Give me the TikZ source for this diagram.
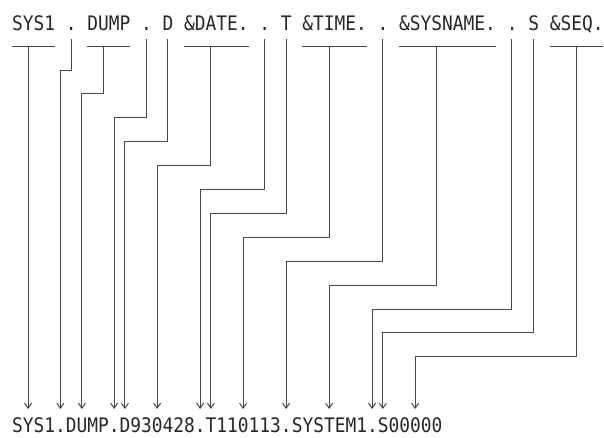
\documentclass[tikz,border=0pt]{standalone}
\usepackage{fontspec}
\newfontfamily\termfont[FakeStretch=0.893]{DejaVu Sans Mono}
\newcommand\termsize{\termfont\fontsize{20}{24}\selectfont
  \spaceskip=10.75pt\relax\xspaceskip=10.75pt\relax}
\usetikzlibrary{arrows.meta}
\begin{document}
\begin{tikzpicture}[x=1pt,y=-1pt,>={Straight Barb[length=5pt,width=7pt]},line join=round,
  font=\termsize,
  wire/.style={draw=black!72,line width=1pt},
  txt/.style={anchor=base west,inner sep=0pt,text depth=0pt,text=black!85}]
\useasboundingbox (0,0) rectangle (604,437);
\node[txt] (src) at (12,30) {SYS1 . DUMP . D \&DATE. . T \&TIME. . \&SYSNAME. . S \&SEQ.};
\node[txt] (dst) at (12,432) {SYS1.DUMP.D930428.T110113.SYSTEM1.S00000};
% bars under the symbols
\foreach \a/\e in {0/3,7/10,16/21,27/32,36/44,50/54}
  {\draw[wire] ({12+\a*10.75},46) -- ({12+(\e+1)*10.75},46);}
% one wire per piece: top column / bottom column / start / step
\foreach \t/\b/\s/\k in {1/1/46/0,5/4/39/0,8/6/46/1,12/9/39/2,14/10/39/3,18/13/46/4,23/17/39/5,
  25/18/39/6,29/21/46/7,34/25/39/8,39/29/46/9,46/33/39/10,48/34/39/11,52/37/46/12}{
  \path ({12+(\t+0.5)*10.75},\s) coordinate (top\t)
        ({12+(\b+0.5)*10.75},{70+23.9*\k}) coordinate (mid\t)
        ({12+(\b+0.5)*10.75},409) coordinate (bot\t);
  \draw[wire,->] (top\t) |- (mid\t) -- (bot\t);}
\end{tikzpicture}
\end{document}
